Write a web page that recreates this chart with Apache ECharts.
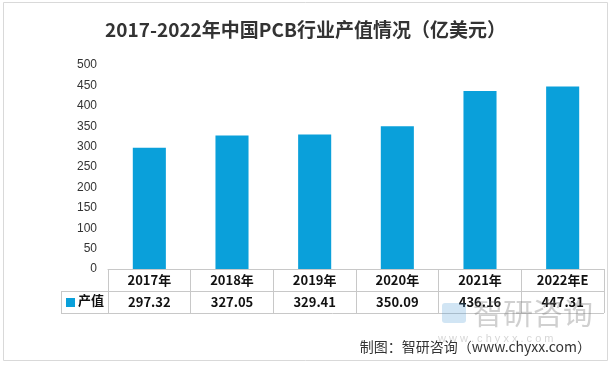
<!DOCTYPE html>
<html><head><meta charset="utf-8">
<script src="https://cdn.jsdelivr.net/npm/echarts@6/dist/echarts.min.js"></script>
<style>html,body{margin:0;padding:0;background:#fff}#c{width:611px;height:365px}</style>
</head><body><div id="c"></div>
<script>
var categories = ['2017年','2018年','2019年','2020年','2021年','2022年E'];
var values = [297.32, 327.05, 329.41, 350.09, 436.16, 447.31];
var valueLabels = ['297.32','327.05','329.41','350.09','436.16','447.31'];
var seriesName = '产值';
var titleText = '2017-2022年中国PCB行业产值情况（亿美元）';
var sourceText = '制图：智研咨询（www.chyxx.com）';

var GL = 108, GR = 604, GT = 65, GB = 269, ROW = 22;
var lineColor = '#c8c8c8';
var barColor = '#0aa0da';
var chart = echarts.init(document.getElementById('c'));
chart.setOption({
  animation: false,
  backgroundColor: '#fff',
  title: {text: titleText, left: 'center', top: 15,
    textStyle: {fontFamily: 'Noto Sans CJK SC', fontSize: 19, fontWeight: 'bold', color: '#333'}},
  grid: {left: GL, right: 611 - GR, top: GT, bottom: 365 - GB},
  xAxis: {type: 'category', data: categories,
    axisLine: {show: true, lineStyle: {color: lineColor, width: 1}},
    axisTick: {show: true, length: ROW * 2, lineStyle: {color: lineColor}},
    axisLabel: {margin: 0, interval: 0,
      formatter: function (v, i) { return '{y|' + v + '}\n{v|' + valueLabels[i] + '}'; },
      rich: {
        y: {fontFamily: 'Noto Sans CJK SC', fontWeight: 'bold', fontSize: 13, color: '#111', lineHeight: ROW, height: ROW},
        v: {fontFamily: 'Noto Sans CJK SC', fontWeight: 'bold', fontSize: 13, color: '#111', lineHeight: ROW, height: ROW}
      }}
  },
  yAxis: {type: 'value', min: 0, max: 500, interval: 50,
    axisLine: {show: false}, axisTick: {show: false}, splitLine: {show: false},
    axisLabel: {margin: 11, fontSize: 12, color: '#333', fontFamily: 'Liberation Sans'}},
  series: [{type: 'bar', name: seriesName, data: values, barWidth: '40%',
    itemStyle: {color: barColor}}],
  graphic: [
    {type: 'rect', shape: {x: 3.5, y: 2.5, width: 604, height: 358}, style: {fill: 'none', stroke: '#d9d9d9', lineWidth: 1}, silent: true, z: -1},
    {type: 'line', shape: {x1: 61, y1: GB + ROW + 0.5, x2: GR, y2: GB + ROW + 0.5}, style: {stroke: lineColor, lineWidth: 1}},
    {type: 'line', shape: {x1: 61, y1: GB + 2 * ROW + 0.5, x2: GR, y2: GB + 2 * ROW + 0.5}, style: {stroke: lineColor, lineWidth: 1}},
    {type: 'line', shape: {x1: 61.5, y1: GB + ROW, x2: 61.5, y2: GB + 2 * ROW}, style: {stroke: lineColor, lineWidth: 1}},
    {type: 'rect', shape: {x: 66, y: GB + ROW + 7, width: 9, height: 9}, style: {fill: barColor}},
    {type: 'text', left: 78, top: GB + ROW + 3, style: {text: seriesName, font: 'bold 13px "Noto Sans CJK SC"', fill: '#111'}},
    {type: 'text', left: 473, top: 298, style: {text: '智研咨询', font: '30px "Noto Sans CJK SC"', fill: 'rgba(120,120,120,0.35)'}, z: 100},
    {type: 'text', left: 438, top: 333, style: {text: 'w w w . c h y x x . c o m', font: '11px "Liberation Sans"', fill: 'rgba(120,120,120,0.3)'}, z: 100},
    {type: 'rect', shape: {x: 442, y: 303, width: 24, height: 20, r: 3}, style: {fill: 'rgba(70,150,210,0.25)'}, z: 100},
    {type: 'text', right: 20, top: 340, style: {text: sourceText, font: '14px "Noto Sans CJK SC"', fill: '#333'}}
  ]
});
</script></body></html>
